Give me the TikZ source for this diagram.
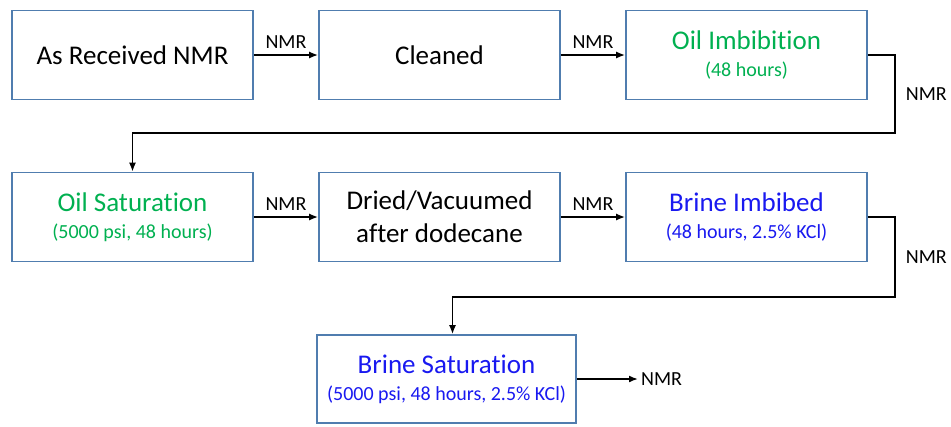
\documentclass[tikz,border=0pt]{standalone}
\usepackage{fontspec}
\setmainfont{Carlito}[Ligatures=NoCommon]
\usetikzlibrary{arrows.meta}
\definecolor{boxblue}{RGB}{80,125,175}
\definecolor{oilgreen}{RGB}{0,176,80}
\definecolor{brineblue}{RGB}{25,25,240}
\newcommand{\stepname}[1]{{\fontsize{27}{27}\selectfont #1}}

\begin{document}
\begin{tikzpicture}[x=1pt,y=-1pt,
    stage/.style={draw=boxblue, line width=1.6pt, minimum width=241pt,
      minimum height=89pt, align=center, inner sep=2pt,
      font=\fontsize{27}{33}\selectfont},
    oilnote/.style={text=oilgreen, font=\fontsize{20}{27}\selectfont},
    brinenote/.style={text=brineblue, font=\fontsize{20}{27}\selectfont},
    flow/.style={line width=1.7pt, -{Latex[length=9pt,width=7pt]}},
    nmr/.style={font=\fontsize{20}{22}\selectfont, inner sep=3pt}]
  \useasboundingbox (0,0) rectangle (951,426);
  % first row
  \node[stage] (received) at (132.5,55) {As Received NMR};
  \node[stage] (cleaned) at (439.5,55) {Cleaned};
  \node[stage, oilnote] (oilimb) at (746.5,55) {\stepname{Oil Imbibition}\\(48 hours)};
  % second row
  \node[stage, oilnote] (oilsat) at (132.5,217) {\stepname{Oil Saturation}\\(5000 psi, 48 hours)};
  \node[stage] (dried) at (439.5,217) {Dried/Vacuumed\\after dodecane};
  \node[stage, brinenote] (brineimb) at (746.5,217) {\stepname{Brine Imbibed}\\(48 hours, 2.5\% KCl)};
  % last row
  \node[stage, brinenote, minimum width=259pt, minimum height=88pt] (brinesat) at (446.5,379)
    {\stepname{Brine Saturation}\\(5000 psi, 48 hours, 2.5\% KCl)};
  \node[nmr, anchor=west] (nmrout) at (638,379) {NMR};
  \coordinate (turnA) at (895,133);
  \coordinate (turnB) at (895,297);
  % connectors
  \draw[flow] (received) -- node[nmr, above=3pt] (nmr1) {NMR} (cleaned);
  \draw[flow] (cleaned) -- node[nmr, above=3pt] (nmr2) {NMR} (oilimb);
  \draw[flow] (oilimb) -| node[nmr, pos=0.75, right=7pt] (nmr3) {NMR} (turnA) -| (oilsat);
  \draw[flow] (oilsat) -- node[nmr, above=3pt] (nmr4) {NMR} (dried);
  \draw[flow] (dried) -- node[nmr, above=3pt] (nmr5) {NMR} (brineimb);
  \draw[flow] (brineimb) -| node[nmr, pos=0.75, right=7pt] (nmr6) {NMR} (turnB)
    -| ([xshift=6pt]brinesat.north);
  \draw[flow] (brinesat) -- (nmrout);
\end{tikzpicture}
\end{document}
